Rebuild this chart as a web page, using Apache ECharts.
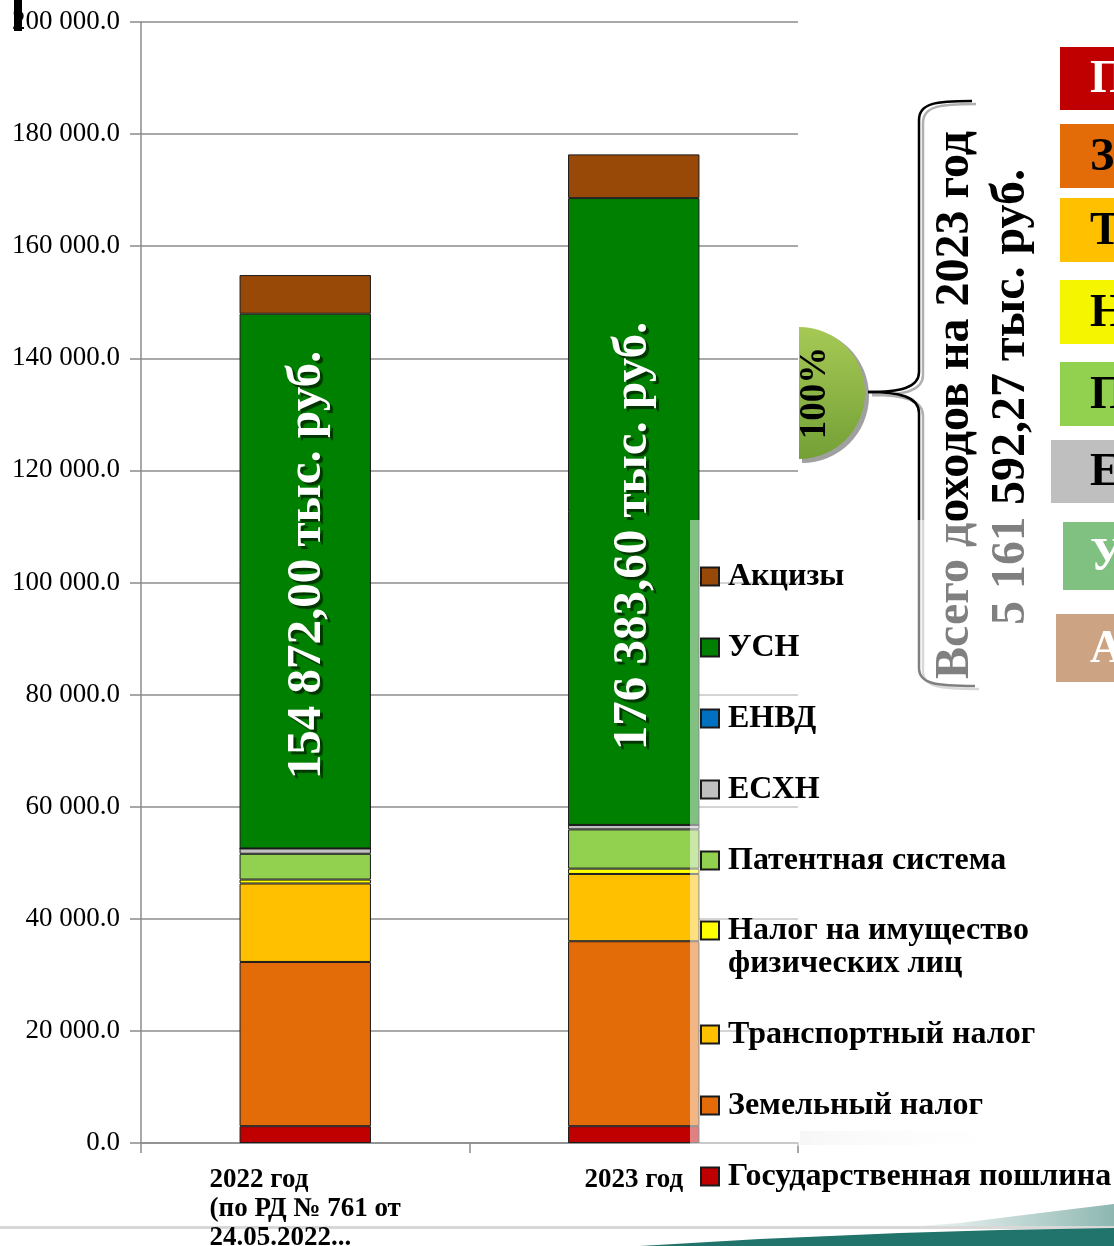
<!DOCTYPE html>
<html><head><meta charset="utf-8">
<script src="https://cdn.jsdelivr.net/npm/echarts@6/dist/echarts.min.js"></script>
<style>html,body{margin:0;padding:0;background:#fff}#c{width:1114px;height:1246px}</style>
</head><body><div id="c"></div>
<script>
// ---- data ----
const categories = ['2022 год\n(по РД № 761 от\n24.05.2022...', '2023 год'];
const seriesNames = ['Государственная пошлина', 'Земельный налог', 'Транспортный налог',
  'Налог на имущество\nфизических лиц', 'Патентная система', 'ЕСХН', 'ЕНВД', 'УСН', 'Акцизы'];
const gosPoshlina = [3000, 3000];
const zemelny = [29300, 33000];
const transportny = [14000, 12000];
const imushchestvo = [700, 950];
const patentnaya = [4600, 7000];
const eskhn = [950, 800];
const envd = [0, 0];
const usn = [95400, 111830];
const akcizy = [6900, 7800];
const totals = [154872.00, 176383.60];
const yMin = 0, yMax = 200000, yInterval = 20000;
const totalLine1 = 'Всего доходов на 2023 год';
const totalLine2 = '5 161 592,27 тыс. руб.';
const sideLetters = ['П', 'З', 'Т', 'Н', 'П', 'Е', 'У', 'А'];

const seriesValues = [gosPoshlina, zemelny, transportny, imushchestvo, patentnaya, eskhn, envd, usn, akcizy];
const colors = ['#C00000', '#E36C09', '#FFC000', '#FFFF00', '#92D050', '#C0C0C0', '#0070C0', '#008000', '#984807'];
const SERIF = '"Liberation Serif", "Times New Roman", serif';

function fmtAxis(v) { return String(Math.round(v)).replace(/\B(?=(\d{3})+(?!\d))/g, ' ') + '.0'; }
function fmtTotal(v) {
  const parts = v.toFixed(2).split('.');
  return parts[0].replace(/\B(?=(\d{3})+(?!\d))/g, ' ') + ',' + parts[1] + ' тыс. руб.';
}

const chart = echarts.init(document.getElementById('c'), null, { renderer: 'canvas' });

const series = seriesNames.map((name, i) => ({
  name, type: 'bar', stack: 'total', barWidth: '40%',
  data: seriesValues[i],
  itemStyle: { color: colors[i], borderColor: '#1a1a1a', borderWidth: 1 },
  emphasis: { disabled: true }
}));

// legend split in three groups so the two-line item keeps its icon on the first line
const legendOrder = seriesNames.slice().reverse();
const legendTextStyle = { fontFamily: SERIF, fontWeight: 'bold', fontSize: 32, color: '#000', lineHeight: 33, padding: [0, 0, 0, 4] };
const legendBase = { orient: 'vertical', left: 700, padding: 0, itemWidth: 18, itemHeight: 18, itemGap: 38,
  icon: 'rect', z: 8, selectedMode: false, textStyle: legendTextStyle };
const legends = [
  Object.assign({}, legendBase, { top: 560, data: legendOrder.slice(0, 5) }),
  Object.assign({}, legendBase, { top: 914, itemHeight: 51, icon: 'path://M0,0L18,0L18,18L0,18Z M0,51L0,51', data: legendOrder.slice(5, 6) }),
  Object.assign({}, legendBase, { top: 1018, data: legendOrder.slice(6) })
];

const gray = '#8c8c8c';
const graphics = [];
// top-left clipped glyph
graphics.push({ type: 'rect', shape: { x: 14, y: 0, width: 8, height: 31 }, style: { fill: '#000' }, z: 5 });
// half circle with shadow
graphics.push({ type: 'sector', shape: { cx: 802, cy: 396, r: 67, startAngle: -Math.PI / 2, endAngle: Math.PI / 2 }, style: { fill: '#a0a0a0' }, z: 1 });
graphics.push({ type: 'sector', shape: { cx: 799, cy: 393, r: 66, startAngle: -Math.PI / 2, endAngle: Math.PI / 2 },
  style: { fill: new echarts.graphic.LinearGradient(0, 0, 0, 1, [{ offset: 0, color: '#a6c955' }, { offset: 1, color: '#74a036' }]) }, z: 1 });
graphics.push({ type: 'text', x: 815, y: 393, rotation: Math.PI / 2,
  style: { text: '100%', font: 'bold 37px ' + SERIF, fill: '#000', align: 'center', verticalAlign: 'middle' }, z: 2 });
// brace (shadow then line)
function bracePieces(dx, dy, color) {
  const b = (x1, y1, c1x, c1y, c2x, c2y, x2, y2) => ({ type: 'bezierCurve',
    shape: { x1: x1 + dx, y1: y1 + dy, cpx1: c1x + dx, cpy1: c1y + dy, cpx2: c2x + dx, cpy2: c2y + dy, x2: x2 + dx, y2: y2 + dy },
    style: { stroke: color, lineWidth: 2.5, fill: null }, z: 1 });
  const l = (x1, y1, x2, y2) => ({ type: 'line', shape: { x1: x1 + dx, y1: y1 + dy, x2: x2 + dx, y2: y2 + dy },
    style: { stroke: color, lineWidth: 2.5 }, z: 1 });
  return [
    b(972, 101, 936, 101, 919, 103, 919, 120), l(919, 120, 919, 372), b(919, 372, 919, 388, 900, 392, 868, 392),
    b(868, 392, 900, 392, 919, 397, 919, 413), l(919, 413, 919, 668), b(919, 668, 919, 684, 936, 686, 975, 686)
  ];
}
bracePieces(4, 3, '#b0b0b0').forEach(e => graphics.push(e));
bracePieces(0, 0, '#000').forEach(e => graphics.push(e));
// rotated totals text
graphics.push({ type: 'text', x: 956, y: 405, rotation: Math.PI / 2,
  style: { text: totalLine1, font: 'bold 48px ' + SERIF, fill: '#000', align: 'center', verticalAlign: 'middle' }, z: 1 });
graphics.push({ type: 'text', x: 1012, y: 397, rotation: Math.PI / 2,
  style: { text: totalLine2, font: 'bold 48px ' + SERIF, fill: '#000', align: 'center', verticalAlign: 'middle' }, z: 1 });
// side coloured boxes
const boxes = [
  [1060, 47, 63, '#C00000', '#fff'], [1060, 124, 64, '#E36C09', '#000'], [1060, 198, 64, '#FFC000', '#000'],
  [1060, 280, 64, '#F5F500', '#000'], [1060, 362, 64, '#92D050', '#000'], [1051, 440, 63, '#BFBFBF', '#000'],
  [1063, 522, 68, '#008000', '#fff'], [1056, 614, 68, '#984807', '#fff']
];
boxes.forEach((b, i) => {
  graphics.push({ type: 'rect', shape: { x: b[0], y: b[1], width: 1114 - b[0] + 10, height: b[2] }, style: { fill: b[3] }, z: 1 });
  graphics.push({ type: 'text', x: 1090, y: b[1] + b[2] / 2 + 2,
    style: { text: sideLetters[i], font: 'bold 46px ' + SERIF, fill: b[4], align: 'left', verticalAlign: 'middle' }, z: 1 });
});
// totals inside bars
const barTextPos = [[307, 565], [633, 536]];
totals.forEach((t, i) => {
  graphics.push({ type: 'text', x: barTextPos[i][0], y: barTextPos[i][1], rotation: Math.PI / 2,
    style: { text: fmtTotal(t), font: 'bold 49px ' + SERIF, fill: '#fff', align: 'center', verticalAlign: 'middle',
      textShadowColor: 'rgba(0,40,0,0.85)', textShadowOffsetX: 3, textShadowOffsetY: 3, textShadowBlur: 1 }, z: 6 });
});
// translucent legend panel
graphics.push({ type: 'rect', shape: { x: 690, y: 520, width: 424, height: 626 }, style: { fill: 'rgba(255,255,255,0.5)' }, z: 7 });
// light shading strip
graphics.push({ type: 'rect', shape: { x: 800, y: 1131, width: 250, height: 14 },
  style: { fill: new echarts.graphic.LinearGradient(0, 0, 1, 0, [{ offset: 0, color: '#eeeeee' }, { offset: 1, color: 'rgba(255,255,255,0)' }]) }, z: 0 });
// bottom decoration
graphics.push({ type: 'polygon', shape: { points: [[880, 1229], [960, 1223], [1040, 1213], [1114, 1204], [1114, 1229]] },
  style: { fill: new echarts.graphic.LinearGradient(0, 0, 1, 0, [{ offset: 0, color: 'rgba(160,195,190,0)' }, { offset: 1, color: '#8db7b1' }]) }, z: 0 });
graphics.push({ type: 'rect', shape: { x: 0, y: 1226, width: 1114, height: 3 }, style: { fill: '#d8d8d8' }, z: 0 });
graphics.push({ type: 'polygon', shape: { points: [[640, 1246], [760, 1239], [900, 1233], [1000, 1230], [1114, 1228], [1114, 1246]] },
  style: { fill: '#21746c' }, z: 0 });

chart.setOption({
  animation: false,
  backgroundColor: '#fff',
  grid: { left: 141, right: 316, top: 22, bottom: 103, containLabel: false, outerBoundsMode: 'none' },
  xAxis: {
    type: 'category', data: categories,
    axisLine: { lineStyle: { color: gray, width: 1.5 } },
    axisTick: { show: true, length: 10, lineStyle: { color: gray, width: 1.5 } },
    axisLabel: {
      margin: 23, interval: 0,
      formatter: v => v.split('\n').map(s => '{l|' + s + '}').join('\n'),
      rich: { l: { align: 'left', fontFamily: SERIF, fontWeight: 'bold', fontSize: 27, color: '#000', lineHeight: 29 } }
    }
  },
  yAxis: {
    type: 'value', min: yMin, max: yMax, interval: yInterval,
    axisLine: { show: true, lineStyle: { color: gray, width: 1.5 } },
    axisTick: { show: true, length: 11, lineStyle: { color: gray, width: 1.5 } },
    splitLine: { lineStyle: { color: gray, width: 1.5 } },
    axisLabel: { margin: 21, formatter: fmtAxis, fontFamily: SERIF, fontSize: 27, color: '#000' }
  },
  legend: legends,
  series,
  graphic: { elements: graphics }
});
</script>
</body></html>
